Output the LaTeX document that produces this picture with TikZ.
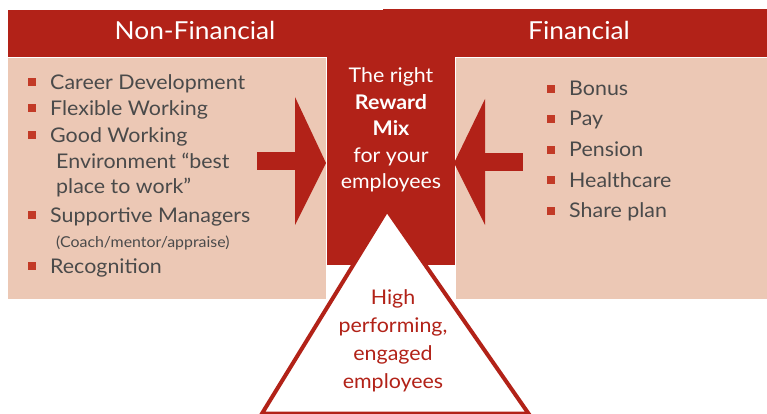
\documentclass[tikz,border=0pt]{standalone}
\usepackage{fontspec}
\setmainfont{Lato}[FakeStretch=1.06]
\definecolor{rewardred}{HTML}{B22218}
\definecolor{peach}{HTML}{ECC8B5}
\definecolor{bulletred}{HTML}{C23A26}
\definecolor{itemgray}{HTML}{4A4A4A}
\begin{document}
\begin{tikzpicture}[x=1pt,y=-1pt,
  redblock/.style={fill=rewardred, draw=none},
  peachbox/.style={fill=peach, draw=white, line width=1pt},
  head/.style={text=white, anchor=base, inner sep=0pt, font=\fontsize{24.8}{28}\selectfont},
  item/.style={text=itemgray, anchor=base west, inner sep=0pt, font=\fontsize{20.2}{24}\selectfont},
  smallitem/.style={text=itemgray, anchor=base west, inner sep=0pt, font=\fontsize{15}{18}\selectfont},
  bul/.style={fill=bulletred, inner sep=0pt, minimum size=8pt},
  centre/.style={text=white, anchor=base, inner sep=0pt, font=\fontsize{20.2}{24}\selectfont},
  tritext/.style={text=rewardred, anchor=base, inner sep=0pt, font=\fontsize{20.2}{24}\selectfont},
  tri/.style={draw=rewardred, fill=white, line width=4pt, line join=miter}]
\useasboundingbox (0,0) rectangle (767,414);

% header bands
\fill[redblock] (8,10) rectangle (383,58);
\fill[redblock] (383,9) rectangle (767,58);
\node[head] (nonfin) at (195,40) {Non-Financial};
\node[head] (fin) at (579,40) {Financial};

% the three panels
\draw[peachbox] (7,58) rectangle (326,299);
\draw[peachbox] (455,58) rectangle (768,299);
\fill[redblock] (326.5,57) rectangle (454.5,265);

% block arrows pointing into the centre
\fill[redblock] (257,152) rectangle (296,170);
\fill[redblock] (295,97) -- (326,163) -- (295,225) -- cycle;
\fill[redblock] (484,153) rectangle (523,171);
\fill[redblock] (485,99) -- (454,163) -- (485,225) -- cycle;

% outcome triangle
\draw[tri] (387,210) -- (528.5,413.5) -- (262,413.5) -- cycle;

% non-financial list
\node[bul] (b1) at (32,82.5) {};
\node[item] (l1) at (50,90) {Career Development};
\node[bul] (b2) at (32,108.5) {};
\node[item] (l2) at (50,116) {Flexible Working};
\node[bul] (b3) at (32,135) {};
\node[item] (l3) at (50,142.5) {Good Working};
\node[item] (l3b) at (56,168) {Environment “best};
\node[item] (l3c) at (56,193.5) {place to work”};
\node[bul] (b4) at (32,215) {};
\node[item] (l4) at (50,222) {Supportive Managers};
\node[smallitem] (l4b) at (56,247) {(Coach/mentor/appraise)};
\node[bul] (b5) at (32,266) {};
\node[item] (l5) at (50,273.5) {Recognition};

% financial list
\node[bul] (r1) at (550.5,89) {};
\node[item] (f1) at (569,96) {Bonus};
\node[bul] (r2) at (550.5,119) {};
\node[item] (f2) at (569,126) {Pay};
\node[bul] (r3) at (550.5,150) {};
\node[item] (f3) at (569,157) {Pension};
\node[bul] (r4) at (550.5,180) {};
\node[item] (f4) at (569,187) {Healthcare};
\node[bul] (r5) at (550.5,210.5) {};
\node[item] (f5) at (569,217.5) {Share plan};

% centre message
\node[centre] (c1) at (391,83) {The right};
\node[centre] (c2) at (391,110) {\bfseries Reward};
\node[centre] (c3) at (391,136) {\bfseries Mix};
\node[centre] (c4) at (391,162) {for your};
\node[centre] (c5) at (391,188) {employees};

% triangle message
\node[tritext] (t1) at (393,304) {High};
\node[tritext] (t2) at (393,332) {performing,};
\node[tritext] (t3) at (393,360) {engaged};
\node[tritext] (t4) at (393,388) {employees};
\end{tikzpicture}
\end{document}
